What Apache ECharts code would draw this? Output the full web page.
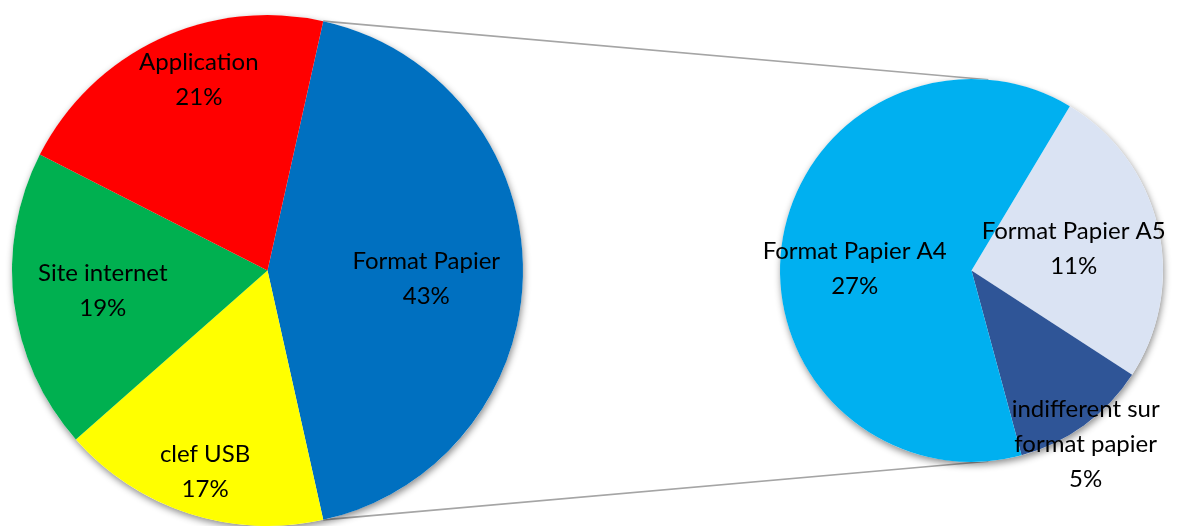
<!DOCTYPE html>
<html>
<head>
<meta charset="utf-8">
<script src="https://cdn.jsdelivr.net/npm/echarts@6/dist/echarts.min.js"></script>
<style>
  html, body { margin: 0; padding: 0; background: #fff; }
  #chart { width: 1185px; height: 526px; }
</style>
</head>
<body>
<div id="chart"></div>
<script>
// Main breakdown (percent of answers)
const mainNames  = ['Format Papier', 'clef USB', 'Site internet', 'Application'];
const mainValues = [43, 17, 19, 21];
const mainColors = ['#0070C0', '#FFFF00', '#00B050', '#FF0000'];

// Detail of "Format Papier" (percent of all answers)
const subNames  = ['Format Papier A5', 'indifferent sur\nformat papier', 'Format Papier A4'];
const subValues = [11, 5, 27];
const subColors = ['#DAE3F3', '#2F5597', '#00B0F0'];

// Layout
const LEFT  = { cx: 267.5, cy: 270.5, r: 255.5 };
const RIGHT = { cx: 971.5, cy: 270.5, r: 191.5 };
const SUB_START = 59.1;

// label nudges relative to the slice's inside anchor
const mainLabelShift = [[28, 8], [-22, 77], [-35, 4], [-13, -72]];
const subLabelShift  = [[6, 1], [56, 94], [-19, 12]];

const sum = a => a.reduce((s, v) => s + v, 0);
const mainTotal = sum(mainValues);
// the detailed slice is centred on the right-hand side
const mainStart = mainValues[0] / mainTotal * 180;

const chart = echarts.init(document.getElementById('chart'), null, { renderer: 'canvas' });

const labelStyle = {
  show: true,
  position: 'inside',
  formatter: '{b}\n{c}%',
  color: '#000',
  fontFamily: 'Lato, "Open Sans", sans-serif',
  fontSize: 24,
  lineHeight: 35,
  align: 'center'
};

function backdrop(geo, total) {
  return {
    type: 'pie', silent: true, z: 1,
    center: [geo.cx, geo.cy], radius: geo.r,
    label: { show: false }, labelLine: { show: false },
    itemStyle: {
      color: '#ffffff',
      shadowBlur: 7, shadowOffsetX: 1, shadowOffsetY: 3,
      shadowColor: 'rgba(0,0,0,0.45)'
    },
    data: [{ value: total }]
  };
}

// tangent point on the detail circle seen from point (px, py), upper or lower side
function tangentPoint(px, py, c, upper) {
  const dx = px - c.cx, dy = py - c.cy;
  const d = Math.hypot(dx, dy);
  const base = Math.atan2(dy, dx);
  const off = Math.acos(c.r / d);
  const cands = [base + off, base - off].map(a => [c.cx + c.r * Math.cos(a), c.cy + c.r * Math.sin(a)]);
  cands.sort((p, q) => p[1] - q[1]);
  return upper ? cands[0] : cands[1];
}

const half = mainStart * Math.PI / 180;
const pTop = [LEFT.cx + LEFT.r * Math.cos(half), LEFT.cy - LEFT.r * Math.sin(half)];
const pBot = [LEFT.cx + LEFT.r * Math.cos(half), LEFT.cy + LEFT.r * Math.sin(half)];
const tTop = tangentPoint(pTop[0], pTop[1], RIGHT, true);
const tBot = tangentPoint(pBot[0], pBot[1], RIGHT, false);

const connector = (a, b) => ({
  type: 'line', z: 0, silent: true,
  shape: { x1: a[0], y1: a[1], x2: b[0], y2: b[1] },
  style: { stroke: '#A5A5A5', lineWidth: 1.6 }
});

chart.setOption({
  animation: false,
  backgroundColor: '#ffffff',
  graphic: [connector(pTop, tTop), connector(pBot, tBot)],
  series: [
    backdrop(LEFT, mainTotal),
    backdrop(RIGHT, sum(subValues)),
    {
      type: 'pie', z: 2,
      center: [LEFT.cx, LEFT.cy], radius: LEFT.r,
      startAngle: mainStart, clockwise: true,
      avoidLabelOverlap: false,
      label: labelStyle, labelLine: { show: false },
      emphasis: { disabled: true },
      labelLayout: p => ({ dx: mainLabelShift[p.dataIndex][0], dy: mainLabelShift[p.dataIndex][1] }),
      data: mainNames.map((n, i) => ({ name: n, value: mainValues[i], itemStyle: { color: mainColors[i] } }))
    },
    {
      type: 'pie', z: 2,
      center: [RIGHT.cx, RIGHT.cy], radius: RIGHT.r,
      startAngle: SUB_START, clockwise: true,
      avoidLabelOverlap: false,
      label: labelStyle, labelLine: { show: false },
      emphasis: { disabled: true },
      labelLayout: p => ({ dx: subLabelShift[p.dataIndex][0], dy: subLabelShift[p.dataIndex][1] }),
      data: subNames.map((n, i) => ({ name: n, value: subValues[i], itemStyle: { color: subColors[i] } }))
    }
  ]
});
</script>
</body>
</html>
